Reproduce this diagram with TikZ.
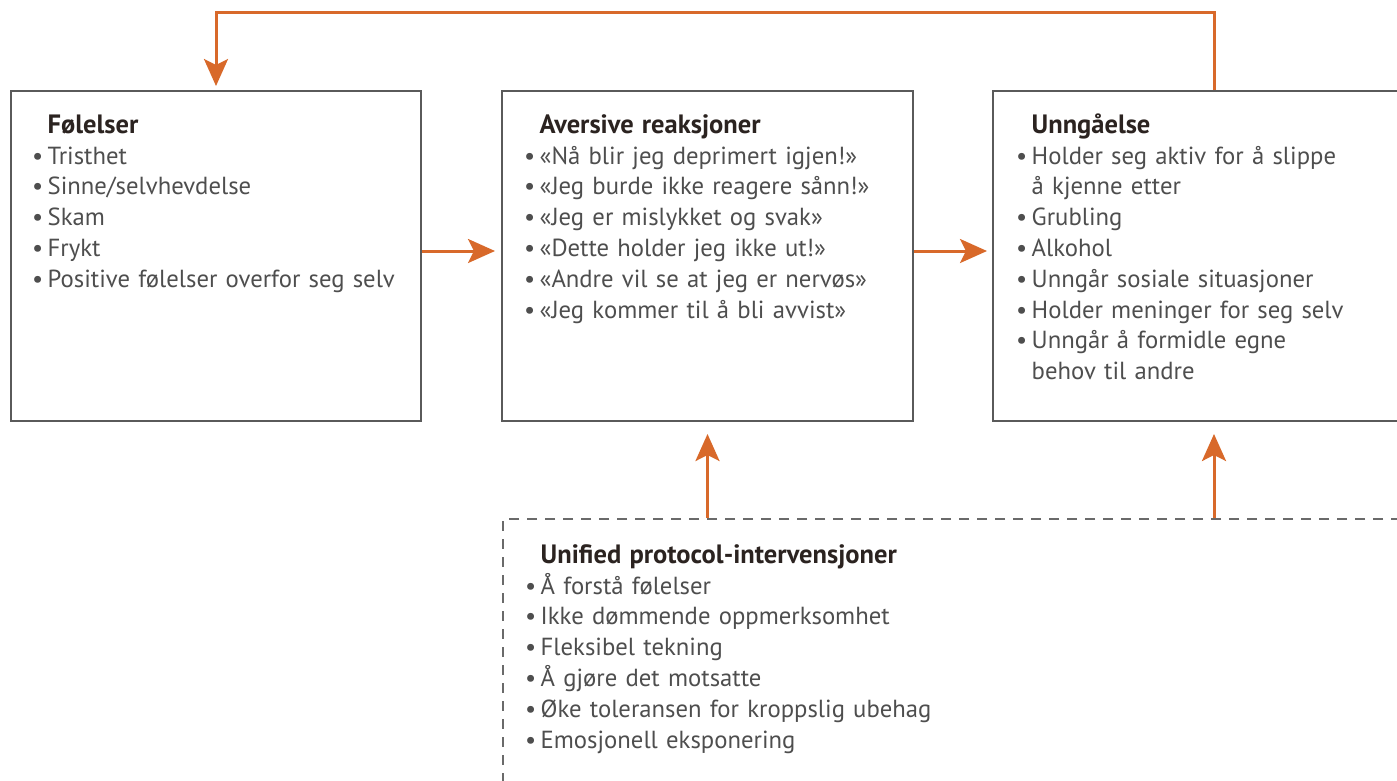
\documentclass[tikz,border=0pt]{standalone}
\usepackage{fontspec}
\setmainfont{PT Sans}
\usetikzlibrary{arrows.meta}
\definecolor{orng}{HTML}{D8692A}
\definecolor{boxgray}{HTML}{5A5A5A}
\definecolor{dashgray}{HTML}{6A6A6A}
\definecolor{txtgray}{HTML}{4E4E4E}
\definecolor{ttlcol}{HTML}{2B2320}
\newcommand{\bitem}[1]{\par\noindent\hangindent=15.5pt\hangafter=1\makebox[15.5pt][l]{•}#1\par}
\newcommand{\btitle}[1]{\noindent\hspace*{15.5pt}\rule{0pt}{20pt}{\fontsize{26.5}{30.8}\selectfont\bfseries\color{ttlcol}#1}\par}
\tikzset{
  box/.style={draw=boxgray, line width=2pt, fill=none, inner sep=0, anchor=north west},
  dbox/.style={draw=dashgray, line width=2pt, dash pattern=on 10pt off 8pt, inner sep=0, anchor=north west},
  txtblock/.style={anchor=north west, inner sep=0, text width=430pt, align=left,
    font=\fontsize{24.7}{30.8}\selectfont, text=txtgray},
  arr/.style={draw=orng, line width=3pt, -{Stealth[length=27pt, width=24pt, inset=6pt]}}
}
\begin{document}
\begin{tikzpicture}[x=1pt,y=-1pt]
\useasboundingbox (0,0) rectangle (1397,780);
\clip (0,0) rectangle (1397,780);
\fill[white] (0,0) rectangle (1397,780);
% boxes
\node[box, minimum width=410pt, minimum height=330pt] (b1) at (10,90) {};
\node[box, minimum width=411pt, minimum height=330pt] (b2) at (501,90) {};
\node[box, minimum width=442pt, minimum height=330pt] (b3) at (992,90) {};
\node[dbox, minimum width=960pt, minimum height=400pt] (ub) at (502,518) {};
% texts
\node[txtblock] (t1) at (32,113) {\btitle{Følelser}
\bitem{Tristhet}
\bitem{Sinne/selvhevdelse}
\bitem{Skam}
\bitem{Frykt}
\bitem{Positive følelser overfor seg selv}};
\node[txtblock] (t2) at (524,113) {\btitle{Aversive reaksjoner}
\bitem{«Nå blir jeg deprimert igjen!»}
\bitem{«Jeg burde ikke reagere sånn!»}
\bitem{«Jeg er mislykket og svak»}
\bitem{«Dette holder jeg ikke ut!»}
\bitem{«Andre vil se at jeg er nervøs»}
\bitem{«Jeg kommer til å bli avvist»}};
\node[txtblock] (t3) at (1016,113) {\btitle{Unngåelse}
\bitem{Holder seg aktiv for å slippe\newline å kjenne etter}
\bitem{Grubling}
\bitem{Alkohol}
\bitem{Unngår sosiale situasjoner}
\bitem{Holder meninger for seg selv}
\bitem{Unngår å formidle egne\newline behov til andre}};
\node[txtblock] (t4) at (525,543) {\btitle{Unified protocol-intervensjoner}
\bitem{Å forstå følelser}
\bitem{Ikke dømmende oppmerksomhet}
\bitem{Fleksibel tekning}
\bitem{Å gjøre det motsatte}
\bitem{Øke toleransen for kroppslig ubehag}
\bitem{Emosjonell eksponering}};
% connectors
\coordinate (loop) at (700,12);
\draw[arr, shorten >=4pt] (b3.north) |- (loop) -| (b1.north);
\draw[arr, shorten >=6pt] ([yshift=5pt]b1.east) -- ([yshift=5pt]b2.west);
\draw[arr, shorten >=5pt] ([yshift=5pt]b2.east) -- ([yshift=5pt]b3.west);
\draw[arr, shorten >=12pt] (ub.north -| b2.south) -- (b2.south);
\draw[arr, shorten >=12pt] (ub.north -| b3.south) -- (b3.south);
\end{tikzpicture}
\end{document}
